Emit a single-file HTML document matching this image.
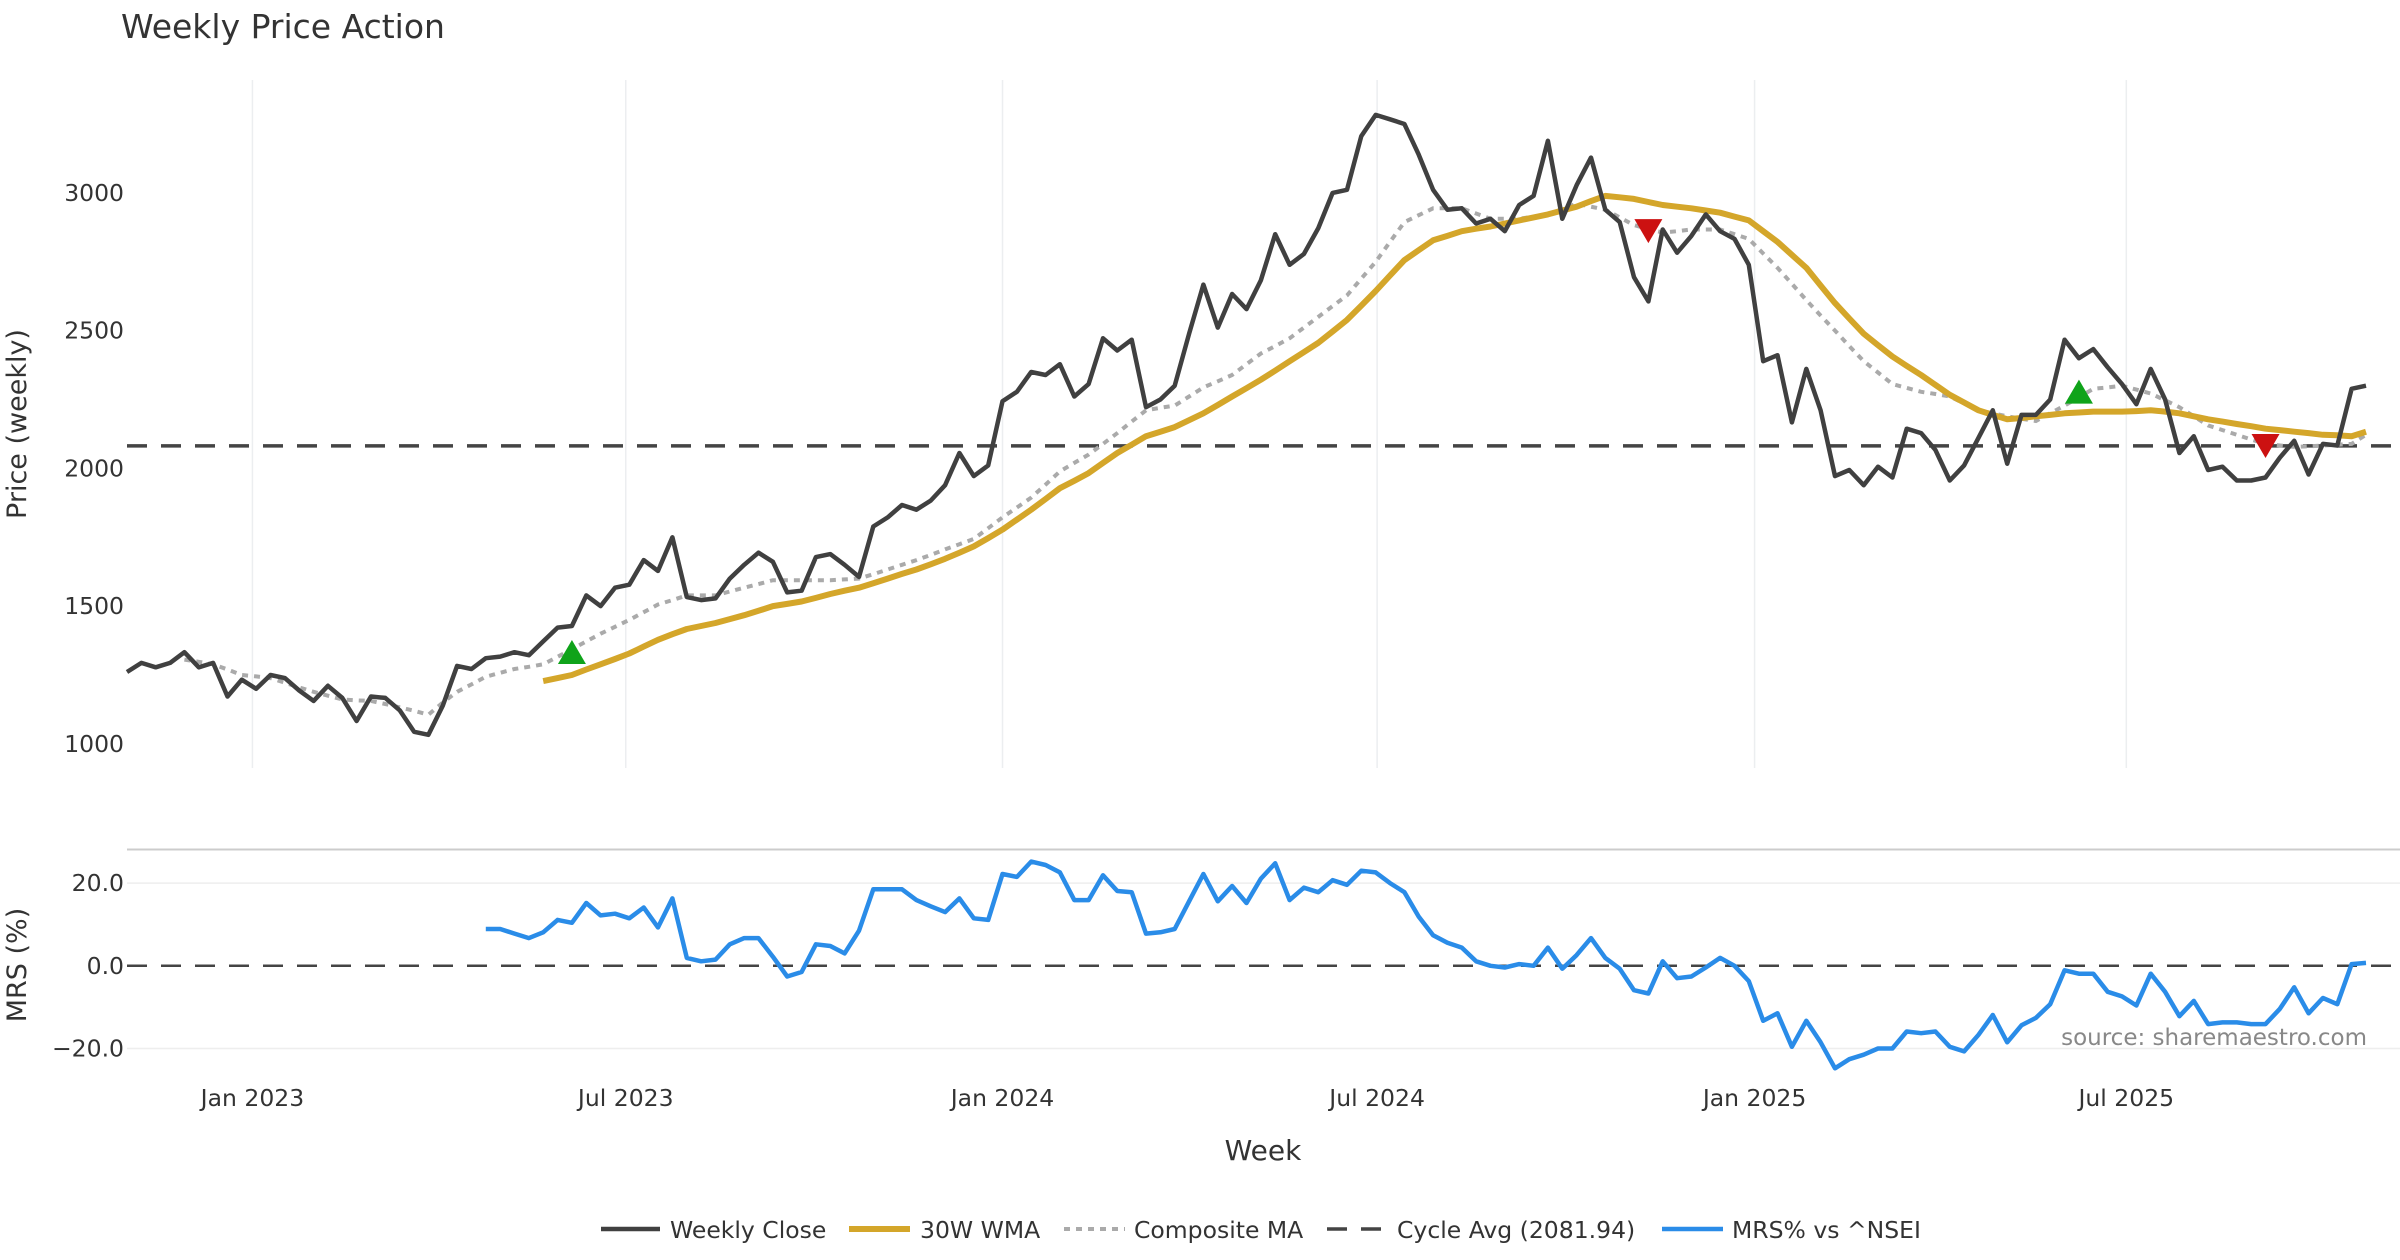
<!DOCTYPE html>
<html><head><meta charset="utf-8"><style>
html,body{margin:0;padding:0;background:#fff;}
svg{display:block;font-family:"DejaVu Sans","Liberation Sans",sans-serif;}
</style></head><body>
<svg id="chart" width="2400" height="1260" viewBox="0 0 2400 1260">
<text x="121" y="38" font-size="33" fill="#333">Weekly Price Action</text>
<g id="grid"></g>
<g id="main"></g>
<g id="mrsPanel"></g>
<g id="axes"></g>
<text transform="translate(26,424) rotate(-90)" text-anchor="middle" font-size="27" fill="#333">Price (weekly)</text>
<text transform="translate(26,965) rotate(-90)" text-anchor="middle" font-size="27" fill="#333">MRS (%)</text>
<text x="1263" y="1160" text-anchor="middle" font-size="28" fill="#333">Week</text>
<text x="2367" y="1045" text-anchor="end" font-size="23" fill="#888">source: sharemaestro.com</text>
<g id="legend">
 <g><line x1="601" y1="1229" x2="660" y2="1229" stroke="#404040" stroke-width="4.5"/><text x="670" y="1238" font-size="23.5" fill="#333">Weekly Close</text></g>
 <g><line x1="849" y1="1229" x2="910" y2="1229" stroke="#d4a62a" stroke-width="6"/><text x="920" y="1238" font-size="23.5" fill="#333">30W WMA</text></g>
 <g><line x1="1064" y1="1229" x2="1125" y2="1229" stroke="#aaa" stroke-width="4" stroke-dasharray="6 6"/><text x="1134" y="1238" font-size="23.5" fill="#333">Composite MA</text></g>
 <g><line x1="1327" y1="1229" x2="1388" y2="1229" stroke="#444" stroke-width="3.5" stroke-dasharray="20 14"/><text x="1397" y="1238" font-size="23.5" fill="#333">Cycle Avg (2081.94)</text></g>
 <g><line x1="1662" y1="1229" x2="1723" y2="1229" stroke="#2a8ce8" stroke-width="4.5"/><text x="1732" y="1238" font-size="23.5" fill="#333">MRS% vs ^NSEI</text></g>
</g>
</svg>
<script>
const closeVals=[1261,1294,1278,1294,1333,1278,1294,1172,1233,1200,1250,1239,1194,1156,1211,1167,1083,1172,1167,1122,1044,1033,1139,1283,1272,1311,1317,1333,1322,1372,1422,1428,1539,1500,1567,1578,1667,1628,1750,1533,1522,1528,1600,1650,1694,1661,1550,1556,1678,1689,1650,1606,1789,1822,1867,1850,1883,1939,2056,1972,2011,2244,2278,2350,2339,2378,2261,2306,2472,2428,2467,2222,2250,2300,2489,2667,2511,2633,2578,2683,2850,2739,2778,2872,3000,3011,3206,3283,3267,3250,3139,3011,2939,2944,2889,2906,2861,2956,2989,3189,2906,3028,3128,2939,2894,2694,2606,2867,2783,2844,2922,2861,2833,2739,2389,2411,2167,2361,2211,1972,1994,1939,2006,1967,2144,2128,2067,1956,2011,2111,2211,2017,2194,2194,2250,2467,2400,2433,2367,2306,2233,2361,2250,2056,2117,1994,2006,1956,1956,1967,2039,2100,1978,2089,2083,2289,2300];
const compositeVals=[null,null,null,null,1306,1298,1289,1270,1250,1245,1239,1222,1205,1189,1175,1161,1158,1156,1145,1133,1120,1106,1150,1189,1216,1244,1258,1272,1280,1289,1316,1344,1372,1400,1425,1450,1478,1506,1522,1539,1539,1539,1553,1567,1580,1594,1594,1594,1594,1594,1597,1600,1616,1633,1650,1667,1686,1706,1725,1744,1783,1822,1858,1894,1941,1989,2020,2050,2089,2128,2170,2211,2220,2228,2261,2294,2316,2339,2378,2417,2444,2472,2511,2550,2589,2628,2689,2750,2822,2894,2919,2944,2944,2944,2925,2906,2906,2906,2914,2922,2941,2961,2950,2939,2911,2883,2869,2856,2861,2867,2867,2867,2850,2833,2780,2728,2670,2611,2555,2500,2444,2389,2348,2306,2292,2278,2270,2261,2236,2211,2200,2189,2180,2172,2200,2228,2258,2289,2294,2300,2286,2272,2247,2222,2189,2156,2139,2122,2105,2089,2083,2078,2080,2083,2086,2089,2122];
const wmaVals=[1228,1239,1250,1270,1289,1308,1328,1353,1378,1398,1417,1428,1439,1453,1467,1483,1500,1508,1517,1530,1544,1556,1567,1583,1600,1617,1633,1652,1672,1694,1717,1747,1778,1814,1850,1889,1928,1955,1983,2020,2056,2086,2117,2133,2150,2175,2200,2230,2261,2291,2322,2355,2389,2422,2456,2497,2539,2591,2644,2700,2756,2792,2828,2844,2861,2870,2878,2889,2900,2911,2922,2936,2950,2970,2989,2984,2978,2967,2956,2950,2944,2936,2928,2914,2900,2861,2822,2775,2728,2664,2600,2544,2489,2447,2406,2372,2339,2303,2267,2239,2211,2194,2178,2183,2189,2194,2200,2203,2206,2206,2206,2208,2211,2206,2200,2189,2178,2170,2161,2153,2144,2139,2133,2128,2122,2120,2117,2133];
const mrsVals=[8.9,8.9,7.8,6.7,8.1,11.1,10.4,15.2,12.2,12.6,11.5,14.1,9.3,16.3,1.9,1.1,1.5,5.2,6.7,6.7,2.2,-2.6,-1.5,5.2,4.8,3.0,8.5,18.5,18.5,18.5,15.9,14.4,13.0,16.3,11.5,11.1,22.2,21.5,25.2,24.4,22.6,15.9,15.9,21.9,18.1,17.8,7.8,8.1,8.9,15.6,22.2,15.6,19.3,15.2,21.1,24.8,15.9,18.9,17.8,20.7,19.6,23.0,22.6,20.0,17.8,11.9,7.4,5.6,4.4,1.1,0,-0.4,0.4,0,4.4,-0.7,2.6,6.7,1.9,-0.7,-5.9,-6.7,1.1,-3.0,-2.6,-0.4,1.9,0,-3.7,-13.3,-11.5,-19.6,-13.3,-18.5,-24.8,-22.6,-21.5,-20.0,-20.0,-15.9,-16.3,-15.9,-19.6,-20.7,-16.7,-11.9,-18.5,-14.4,-12.6,-9.3,-1.1,-1.9,-1.9,-6.3,-7.4,-9.6,-1.9,-6.3,-12.2,-8.5,-14.1,-13.7,-13.7,-14.1,-14.1,-10.4,-5.2,-11.5,-7.8,-9.3,0.4,0.7];
const cycleAvg=2081.94;
const xTickLabels=["Jan 2023","Jul 2023","Jan 2024","Jul 2024","Jan 2025","Jul 2025"];
const xTickWeeks=[8.74,34.75,61.0,87.1,113.4,139.3];
const yTickVals=[1000,1500,2000,2500,3000];
const mrsTickVals=[-20,0,20];
const mrsTickLabels=["\u221220.0","0.0","20.0"];
const signalWeeks=[31,106,136,149];
const signalPrices=[1330,2865,2275,2085];
const signalTypes=["buy","sell","buy","sell"];

const NS="http://www.w3.org/2000/svg";
const N=closeVals.length;
const X0=127,X1=2366;
function xs(i){return X0+i*(X1-X0)/(N-1);}
function ys(v){return 743.9-(v-1000)*0.27551;}
function ym(v){return 965.8-v*4.133;}
function mk(tag,attrs,parent){const e=document.createElementNS(NS,tag);for(const k in attrs)e.setAttribute(k,attrs[k]);parent.appendChild(e);return e;}
const grid=document.getElementById('grid'),main=document.getElementById('main'),mrsG=document.getElementById('mrsPanel'),axes=document.getElementById('axes');

xTickWeeks.forEach((w,k)=>{
  const l=mk('line',{x1:xs(w),x2:xs(w),y1:80,y2:768,stroke:'#eceef0','stroke-width':1.5},grid);
  
  
  const t=mk('text',{x:xs(w),y:1106,'text-anchor':'middle','font-size':23.5,fill:'#333'},axes);
  t.textContent=xTickLabels[k];
  
  
});
yTickVals.forEach(v=>{
  const t=mk('text',{x:124,y:ys(v)+8,'text-anchor':'end','font-size':23.5,fill:'#333'},axes);
  t.textContent=v;
  
  
});
const sep=mk('line',{x1:127,x2:2400,y1:849.5,y2:849.5,stroke:'#ccc','stroke-width':2},mrsG);


mrsTickVals.forEach((v,k)=>{
  const l=mk('line',{x1:127,x2:2400,y1:ym(v),y2:ym(v),stroke:v===0?'#444':'#eee','stroke-width':v===0?2.5:1.5,'stroke-dasharray':v===0?'20 14':'none'},mrsG);
  
  
  const t=mk('text',{x:124,y:ym(v)+8,'text-anchor':'end','font-size':23.5,fill:'#333'},axes);
  t.textContent=mrsTickLabels[k];
  
  
});
function path(vals,offset,yf){let d='';let pen=false;vals.forEach((v,k)=>{if(v===null){pen=false;return;}d+=(pen?'L':'M')+xs(k+offset).toFixed(1)+' '+yf(v).toFixed(1);pen=true;});return d;}
const cyc=mk('line',{x1:127,x2:2400,y1:ys(cycleAvg),y2:ys(cycleAvg),stroke:'#444','stroke-width':3.5,'stroke-dasharray':'20 14'},main);


const pc=mk('path',{d:path(compositeVals,0,ys),fill:'none',stroke:'#aaa','stroke-width':4,'stroke-dasharray':'6 6'},main);


const pw=mk('path',{d:path(wmaVals,N-wmaVals.length,ys),fill:'none',stroke:'#d4a62a','stroke-width':6,'stroke-linejoin':'round'},main);


const pcl=mk('path',{d:path(closeVals,0,ys),fill:'none',stroke:'#404040','stroke-width':4.5,'stroke-linejoin':'round'},main);


const pm=mk('path',{d:path(mrsVals,N-mrsVals.length,ym),fill:'none',stroke:'#2a8ce8','stroke-width':4.5,'stroke-linejoin':'round'},mrsG);


signalWeeks.forEach((w,k)=>{
  const cx=xs(w),cy=ys(signalPrices[k]),s=14;
  const pts=signalTypes[k]==='buy'?`${cx-s},${cy+11} ${cx+s},${cy+11} ${cx},${cy-13}`:`${cx-s},${cy-11} ${cx+s},${cy-11} ${cx},${cy+13}`;
  const p=mk('polygon',{points:pts,fill:signalTypes[k]==='buy'?'#0fa31a':'#cc1111'},main);
  
  
});
</script>
</body></html>
